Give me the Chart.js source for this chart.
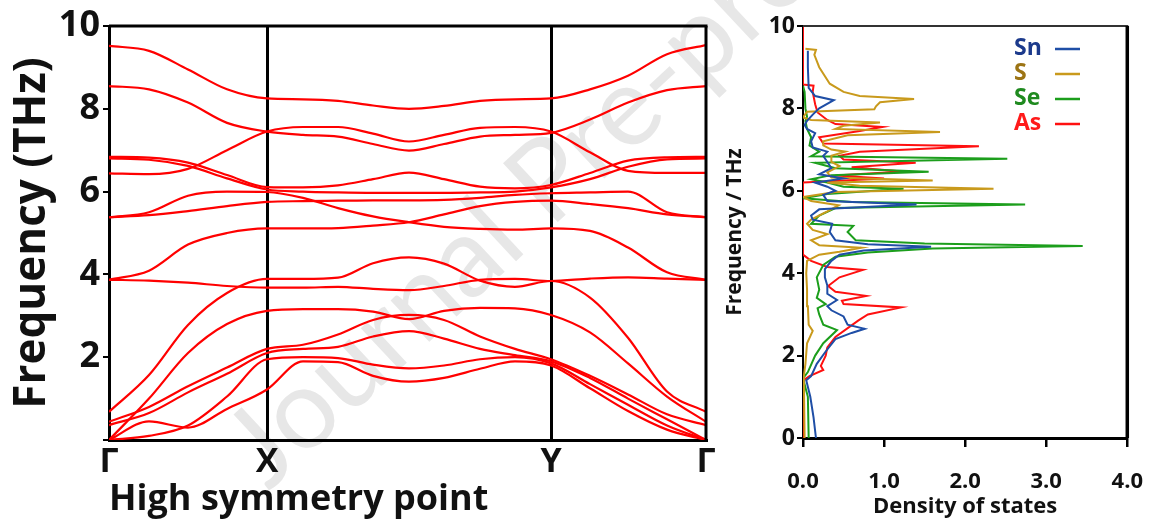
<!DOCTYPE html>
<html>
<head>
<meta charset="utf-8">
<script src="https://cdn.jsdelivr.net/npm/chart.js@4.4.1/dist/chart.umd.min.js"></script>
<style>
  html, body { margin: 0; padding: 0; background: #fff; }
  #wrap { position: relative; width: 1165px; height: 523px; overflow: hidden; }
  #mark {
    position: absolute; left: 262px; top: 485px;
    font: 112px Lato, sans-serif; color: #e7e7e7;
    white-space: nowrap; line-height: 1;
    transform-origin: 0 0; transform: rotate(-43deg) translateY(-0.8em);
  }
  #bandChart { position: absolute; left: 0; top: 0; }
  #dosChart { position: absolute; left: 720px; top: 0; }
</style>
</head>
<body>
<div id="wrap">
  <div id="mark">Journal Pre-proof</div>
  <canvas id="bandChart" width="720" height="523"></canvas>
  <canvas id="dosChart" width="445" height="523"></canvas>
</div>
<script>
// path coordinate along Γ-X-Y-Γ (arbitrary units, proportional to segment length)
const kPos = [0, 40, 79, 118, 158, 194, 229, 264, 300, 335, 371, 406, 442, 481, 519, 558, 597];
const symPos = [0, 158, 442, 597];
const symLabels = ["Γ", "X", "Y", "Γ"];

// phonon branches (THz) at each kPos
const bands = [
  [9.52, 9.4, 8.95, 8.47, 8.25, 8.23, 8.19, 8.08, 8.0, 8.07, 8.19, 8.23, 8.25, 8.47, 8.8, 9.32, 9.54],
  [8.55, 8.47, 8.15, 7.66, 7.45, 7.37, 7.33, 7.15, 6.99, 7.15, 7.33, 7.37, 7.42, 7.74, 8.15, 8.45, 8.55],
  [6.44, 6.42, 6.55, 7.0, 7.45, 7.56, 7.56, 7.4, 7.21, 7.37, 7.54, 7.56, 7.45, 6.95, 6.5, 6.45, 6.45],
  [6.84, 6.82, 6.7, 6.4, 6.11, 6.1, 6.15, 6.3, 6.46, 6.3, 6.12, 6.08, 6.16, 6.45, 6.75, 6.83, 6.84],
  [6.8, 6.77, 6.62, 6.32, 6.05, 6.0, 5.98, 5.97, 5.97, 5.97, 5.98, 6.0, 6.1, 6.3, 6.6, 6.78, 6.8],
  [5.38, 5.5, 5.9, 6.0, 5.99, 5.85, 5.6, 5.4, 5.26, 5.15, 5.1, 5.08, 5.11, 5.05, 4.65, 4.05, 3.87],
  [5.38, 5.43, 5.53, 5.65, 5.75, 5.77, 5.78, 5.79, 5.79, 5.8, 5.85, 5.92, 5.96, 5.98, 6.0, 5.5, 5.38],
  [3.87, 4.09, 4.72, 5.0, 5.11, 5.11, 5.12, 5.18, 5.26, 5.45, 5.65, 5.75, 5.78, 5.7, 5.6, 5.45, 5.38],
  [3.87, 3.85, 3.8, 3.72, 3.68, 3.68, 3.7, 3.65, 3.62, 3.72, 3.87, 3.89, 3.84, 3.9, 3.93, 3.9, 3.87],
  [0.68, 1.57, 2.78, 3.55, 3.89, 3.89, 3.92, 4.27, 4.41, 4.26, 3.85, 3.7, 3.84, 3.44, 2.47, 1.17, 0.68],
  [0, 1.0, 2.1, 2.8, 3.12, 3.16, 3.16, 3.1, 2.92, 3.12, 3.19, 3.18, 3.02, 2.6, 1.85, 1.05, 0.44],
  [0.44, 0.8, 1.3, 1.75, 2.2, 2.3, 2.55, 2.9, 3.02, 2.9, 2.5, 2.2, 1.95, 1.55, 1.1, 0.62, 0.36],
  [0.36, 0.65, 1.15, 1.6, 2.1, 2.2, 2.25, 2.5, 2.63, 2.45, 2.2, 2.05, 1.9, 1.5, 1.0, 0.5, 0],
  [0, 0.1, 0.35, 1.05, 1.95, 2.0, 1.98, 1.82, 1.73, 1.8, 1.95, 2.0, 1.85, 1.35, 0.85, 0.35, 0],
  [0, 0.45, 0.3, 0.75, 1.22, 1.9, 1.88, 1.55, 1.41, 1.5, 1.72, 1.9, 1.8, 1.25, 0.7, 0.25, 0]
];

// partial density of states: frequency (THz) and DOS value
const snFreq = [0, 0.5, 1.0, 1.4, 1.5, 1.8, 2.1, 2.4, 2.55, 2.65, 2.75, 2.95, 3.1, 3.2, 3.35, 3.5, 3.7, 3.9, 4.1, 4.3, 4.45, 4.55, 4.64, 4.7, 4.8, 5.0, 5.2, 5.3, 5.4, 5.55, 5.67, 5.75, 5.9, 6.0, 6.1, 6.2, 6.3, 6.4, 6.55, 6.7, 6.85, 6.95, 7.05, 7.2, 7.4, 7.5, 7.6, 7.7, 7.85, 8.0, 8.2, 8.3, 8.5, 9.0, 9.4];
const snDos = [0.16, 0.13, 0.09, 0.04, 0.1, 0.17, 0.28, 0.4, 0.6, 0.76, 0.55, 0.5, 0.35, 0.3, 0.42, 0.3, 0.3, 0.27, 0.27, 0.35, 0.45, 0.75, 1.58, 0.8, 0.4, 0.33, 0.36, 0.12, 0.1, 0.2, 1.4, 0.3, 0.25, 0.4, 0.3, 0.15, 0.5, 0.2, 0.35, 0.3, 0.25, 0.3, 0.12, 0.1, 0.15, 0.05, 0.02, 0.05, 0.12, 0.2, 0.38, 0.15, 0.07, 0.06, 0.06];

const sFreq = [0, 1.5, 1.8, 2.3, 2.6, 2.75, 3.2, 3.6, 4.0, 4.3, 4.45, 4.52, 4.62, 4.68, 4.8, 4.95, 5.05, 5.2, 5.3, 5.5, 5.65, 5.75, 5.85, 5.97, 6.05, 6.12, 6.2, 6.25, 6.32, 6.45, 6.6, 6.7, 6.85, 6.95, 7.0, 7.1, 7.2, 7.35, 7.43, 7.5, 7.58, 7.66, 7.72, 7.78, 7.92, 7.98, 8.05, 8.15, 8.23, 8.3, 8.4, 8.6, 9.0, 9.3, 9.42, 9.45];
const sDos = [0.02, 0.01, 0.03, 0.05, 0.12, 0.07, 0.06, 0.05, 0.04, 0.05, 0.2, 0.45, 0.72, 0.2, 0.1, 0.3, 0.12, 0.05, 0.1, 0.3, 0.44, 0.1, 0, 0.4, 2.35, 0.7, 0.3, 1.6, 0.35, 0.3, 0.45, 0.35, 0.35, 0.52, 0.35, 0.25, 0.25, 0.55, 1.69, 0.4, 0.5, 0.95, 0.1, 0, 0.05, 0.88, 0.9, 0.95, 1.37, 0.7, 0.5, 0.33, 0.2, 0.14, 0.16, 0.03];

const seFreq = [0, 1.0, 1.45, 1.6, 2.0, 2.3, 2.62, 2.75, 3.0, 3.15, 3.25, 3.4, 3.6, 3.9, 4.2, 4.4, 4.5, 4.6, 4.66, 4.72, 4.8, 5.0, 5.15, 5.2, 5.4, 5.58, 5.67, 5.73, 5.82, 5.92, 6.05, 6.1, 6.2, 6.28, 6.38, 6.46, 6.55, 6.68, 6.78, 6.84, 6.95, 7.1, 7.3, 7.5, 7.7, 7.8, 8.0, 8.4, 8.55];
const seDos = [0.07, 0.06, 0, 0.06, 0.15, 0.25, 0.42, 0.25, 0.2, 0.18, 0.28, 0.17, 0.2, 0.17, 0.25, 0.4, 0.8, 1.6, 3.45, 1.5, 0.65, 0.55, 0.62, 0.1, 0.2, 0.4, 2.74, 0.6, 0, 0.3, 1.24, 0.5, 0.3, 0.1, 0.35, 1.55, 0.4, 0.15, 2.52, 0.1, 0.2, 0.08, 0.1, 0.05, 0.03, 0.05, 0.03, 0.02, 0];

const asFreq = [0, 1.4, 1.5, 1.65, 1.75, 2.0, 2.2, 2.45, 2.85, 3.0, 3.17, 3.25, 3.33, 3.45, 3.55, 3.69, 3.9, 4.08, 4.15, 4.3, 4.45, 6.2, 6.3, 6.37, 6.47, 6.57, 6.68, 6.76, 6.85, 6.95, 7.08, 7.15, 7.3, 7.45, 7.55, 7.62, 7.72, 7.9, 8.1, 8.4, 8.55, 8.58, 10];
const asDos = [0, 0, 0.08, 0.25, 0.22, 0.28, 0.3, 0.4, 0.68, 0.8, 1.21, 0.5, 0.48, 0.78, 0.4, 0.31, 0.45, 0.74, 0.3, 0.1, 0, 0, 1.0, 0.4, 1.23, 0.6, 1.39, 0.5, 0.45, 0.7, 2.17, 0.25, 0.2, 0.7, 0.98, 0.4, 0.3, 0.18, 0.15, 0.12, 0.13, 0, 0];

const elemLabels = ["Sn", "S", "Se", "As"];
const elemColors = ["#1f4ea6", "#c99a1c", "#1c9e1c", "#ff1010"];
const elemTextColors = ["#1c3a8c", "#9c7414", "#1f8a1f", "#ff1a1a"];

const FONT = '"Open Sans", sans-serif';

function boxPlugin(id, sides) {
    return {
        id: id,
        afterDraw(chart) {
            const { ctx, chartArea: a } = chart;
            ctx.save();
            sides.forEach(s => {
                ctx.lineWidth = s.w;
                ctx.strokeStyle = s.c;
                ctx.beginPath();
                if (s.side === "top") { ctx.moveTo(a.left, a.top); ctx.lineTo(a.right + s.w / 2, a.top); }
                if (s.side === "right") { ctx.moveTo(a.right, a.top); ctx.lineTo(a.right, a.bottom); }
                ctx.stroke();
            });
            ctx.restore();
        }
    };
}

// band structure
new Chart(document.getElementById("bandChart"), {
    type: "line",
    data: {
        datasets: bands.map((b, i) => ({
            label: "branch " + (i + 1),
            data: b.map((f, j) => ({ x: kPos[j], y: f })),
            borderColor: "#ff0000",
            borderWidth: 2.2,
            pointRadius: 0,
            cubicInterpolationMode: "monotone",
            fill: false,
        })),
    },
    options: {
        responsive: false,
        animation: false,
        layout: { padding: { left: 0, right: 14, top: 26, bottom: 0 } },
        plugins: { legend: { display: false }, tooltip: { enabled: false } },
        scales: {
            x: {
                type: "linear",
                min: 0,
                max: 597,
                afterBuildTicks: s => { s.ticks = symPos.map(v => ({ value: v })); },
                afterFit: s => { s.height = 83; },
                ticks: {
                    autoSkip: false,
                    maxRotation: 0,
                    padding: 2,
                    color: "#111",
                    font: { family: FONT, size: 34, weight: "bold" },
                    callback: (v, i) => symLabels[i],
                },
                grid: {
                    drawTicks: false,
                    lineWidth: 3,
                    color: c => (c.tick && (c.tick.value === 158 || c.tick.value === 442)) ? "#000" : "rgba(0,0,0,0)",
                },
                border: { color: "#000", width: 3 },
                title: {
                    display: true,
                    text: "High symmetry point",
                    align: "start",
                    color: "#111",
                    font: { family: FONT, size: 36, weight: "bold" },
                    padding: { top: 0, bottom: 2 },
                },
            },
            y: {
                min: 0,
                max: 10,
                afterFit: s => { s.width = 109; },
                ticks: {
                    stepSize: 2,
                    padding: 3,
                    color: "#111",
                    font: { family: FONT, size: 36, weight: "bold" },
                    callback: v => (v === 0 ? "" : v),
                },
                grid: { drawOnChartArea: false, color: "#000", lineWidth: 2, tickLength: 6 },
                border: { color: "#000", width: 3 },
                title: {
                    display: true,
                    text: "Frequency (THz)",
                    color: "#111",
                    font: { family: FONT, size: 44, weight: "bold" },
                    padding: { top: 6, bottom: 0 },
                },
            },
        },
    },
    plugins: [boxPlugin("bandBox", [{ side: "top", w: 3, c: "#000" }, { side: "right", w: 3, c: "#000" }])],
});

// element legend drawn inside the plot, text then line sample
const elemLegend = {
    id: "elemLegend",
    afterDraw(chart) {
        const ctx = chart.ctx;
        ctx.save();
        ctx.font = "bold 23px " + FONT;
        ctx.textAlign = "left";
        ctx.textBaseline = "middle";
        chart.data.datasets.forEach((ds, i) => {
            const y = 48 + i * 25;
            ctx.fillStyle = elemTextColors[i];
            ctx.fillText(ds.label, 294, y);
            ctx.strokeStyle = ds.borderColor;
            ctx.lineWidth = 2.5;
            ctx.beginPath();
            ctx.moveTo(335, y + 1);
            ctx.lineTo(360, y + 1);
            ctx.stroke();
        });
        ctx.restore();
    }
};

const dosSets = [[snFreq, snDos], [sFreq, sDos], [seFreq, seDos], [asFreq, asDos]];

new Chart(document.getElementById("dosChart"), {
    type: "scatter",
    data: {
        datasets: dosSets.map((p, i) => ({
            label: elemLabels[i],
            data: p[0].map((f, j) => ({ x: p[1][j], y: f })),
            showLine: true,
            borderColor: elemColors[i],
            borderWidth: 2,
            pointRadius: 0,
            tension: 0,
        })),
    },
    options: {
        responsive: false,
        animation: false,
        layout: { padding: { left: 0, right: 25, top: 26, bottom: 0 } },
        plugins: { legend: { display: false }, tooltip: { enabled: false } },
        scales: {
            x: {
                type: "linear",
                min: 0,
                max: 4,
                afterFit: s => { s.height = 85; },
                ticks: {
                    stepSize: 1,
                    padding: 22,
                    color: "#111",
                    font: { family: FONT, size: 22, weight: "bold" },
                    callback: v => v.toFixed(1),
                },
                grid: { drawOnChartArea: false, color: "#000", lineWidth: 2.5, tickLength: 9 },
                border: { color: "#000", width: 3 },
                title: {
                    display: true,
                    text: "Density of states",
                    color: "#111",
                    font: { family: FONT, size: 22, weight: "bold" },
                    padding: { top: 0, bottom: 3 },
                },
            },
            y: {
                min: 0,
                max: 10,
                afterFit: s => { s.width = 83; },
                ticks: {
                    stepSize: 2,
                    padding: 2,
                    color: "#111",
                    font: { family: FONT, size: 23, weight: "bold" },
                },
                grid: { drawOnChartArea: false, color: "#000", lineWidth: 2, tickLength: 6 },
                border: { color: "#000", width: 2 },
                title: {
                    display: true,
                    text: "Frequency / THz",
                    color: "#111",
                    font: { family: FONT, size: 21, weight: "bold" },
                    padding: { top: 2, bottom: 0 },
                },
            },
        },
    },
    plugins: [elemLegend, boxPlugin("dosBox", [{ side: "top", w: 2, c: "#333" }, { side: "right", w: 3.5, c: "#000" }])],
});
</script>
</body>
</html>
